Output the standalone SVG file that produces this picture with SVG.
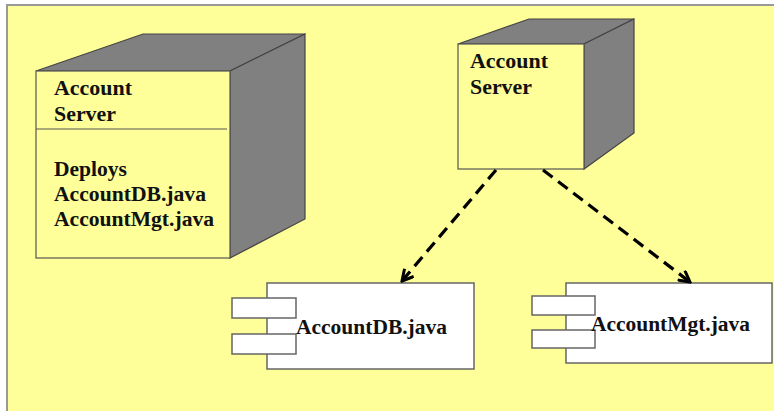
<svg xmlns="http://www.w3.org/2000/svg" width="774" height="411" viewBox="0 0 774 411">
<defs>
<style>
.face{fill:#FFFF99;stroke:#555;stroke-width:1.2}
.side{fill:#808080;stroke:#444;stroke-width:1.2}
.comp{fill:#FFFFFF;stroke:#666;stroke-width:1.5}
.t{font-family:"Liberation Serif","Times New Roman",serif;font-weight:bold;font-size:20.5px;fill:#111}
.dep{stroke:#000;stroke-width:3.2;stroke-dasharray:12 7;fill:none}
</style>
<marker id="open" viewBox="0 0 14 14" refX="12" refY="7" markerWidth="14" markerHeight="14" markerUnits="userSpaceOnUse" orient="auto">
<path d="M1,1 L12,7 L1,13" fill="none" stroke="#000" stroke-width="3" stroke-linejoin="miter"/>
</marker>
</defs>
<rect x="0" y="0" width="774" height="411" fill="#FFFFFF"/>
<rect x="7" y="5" width="770" height="410" fill="#FFFF99" stroke="#999" stroke-width="2"/>
<g id="node-account-server-left">
<polygon class="side" points="36,71 143,34 305,34 230,71"/>
<polygon class="side" points="230,71 305,34 305,219 230,258"/>
<rect class="face" x="36" y="71" width="194" height="187"/>
<line x1="36" y1="129" x2="227" y2="129" stroke="#555" stroke-width="1.2"/>
<text class="t" x="54" y="95" textLength="78" lengthAdjust="spacingAndGlyphs">Account</text>
<text class="t" x="54" y="121" textLength="62" lengthAdjust="spacingAndGlyphs">Server</text>
<text class="t" x="54" y="176" textLength="73" lengthAdjust="spacingAndGlyphs">Deploys</text>
<text class="t" x="54" y="201" textLength="152" lengthAdjust="spacingAndGlyphs">AccountDB.java</text>
<text class="t" x="54" y="226" textLength="160" lengthAdjust="spacingAndGlyphs">AccountMgt.java</text>
</g>
<g id="node-account-server-right">
<polygon class="side" points="458,44 529,19 634,19 584,44"/>
<polygon class="side" points="584,44 634,19 634,133 584,169"/>
<rect class="face" x="458" y="44" width="126" height="125"/>
<text class="t" x="470" y="68" textLength="78" lengthAdjust="spacingAndGlyphs">Account</text>
<text class="t" x="470" y="94" textLength="62" lengthAdjust="spacingAndGlyphs">Server</text>
</g>
<g id="node-accountdb">
<rect class="comp" x="267" y="283" width="207" height="86"/>
<rect class="comp" x="232" y="298" width="64" height="20"/>
<rect class="comp" x="232" y="334" width="64" height="20"/>
<text class="t" x="296" y="334" textLength="151" lengthAdjust="spacingAndGlyphs">AccountDB.java</text>
</g>
<g id="node-accountmgt">
<rect class="comp" x="566" y="283" width="206" height="80"/>
<rect class="comp" x="532" y="296" width="63" height="19"/>
<rect class="comp" x="532" y="330" width="63" height="18"/>
<text class="t" x="591" y="331" textLength="159" lengthAdjust="spacingAndGlyphs">AccountMgt.java</text>
</g>
<g id="connectors">
<line class="dep" x1="496" y1="170" x2="402" y2="281" marker-end="url(#open)"/>
<line class="dep" x1="543" y1="170" x2="690" y2="282" marker-end="url(#open)"/>
</g>
</svg>
